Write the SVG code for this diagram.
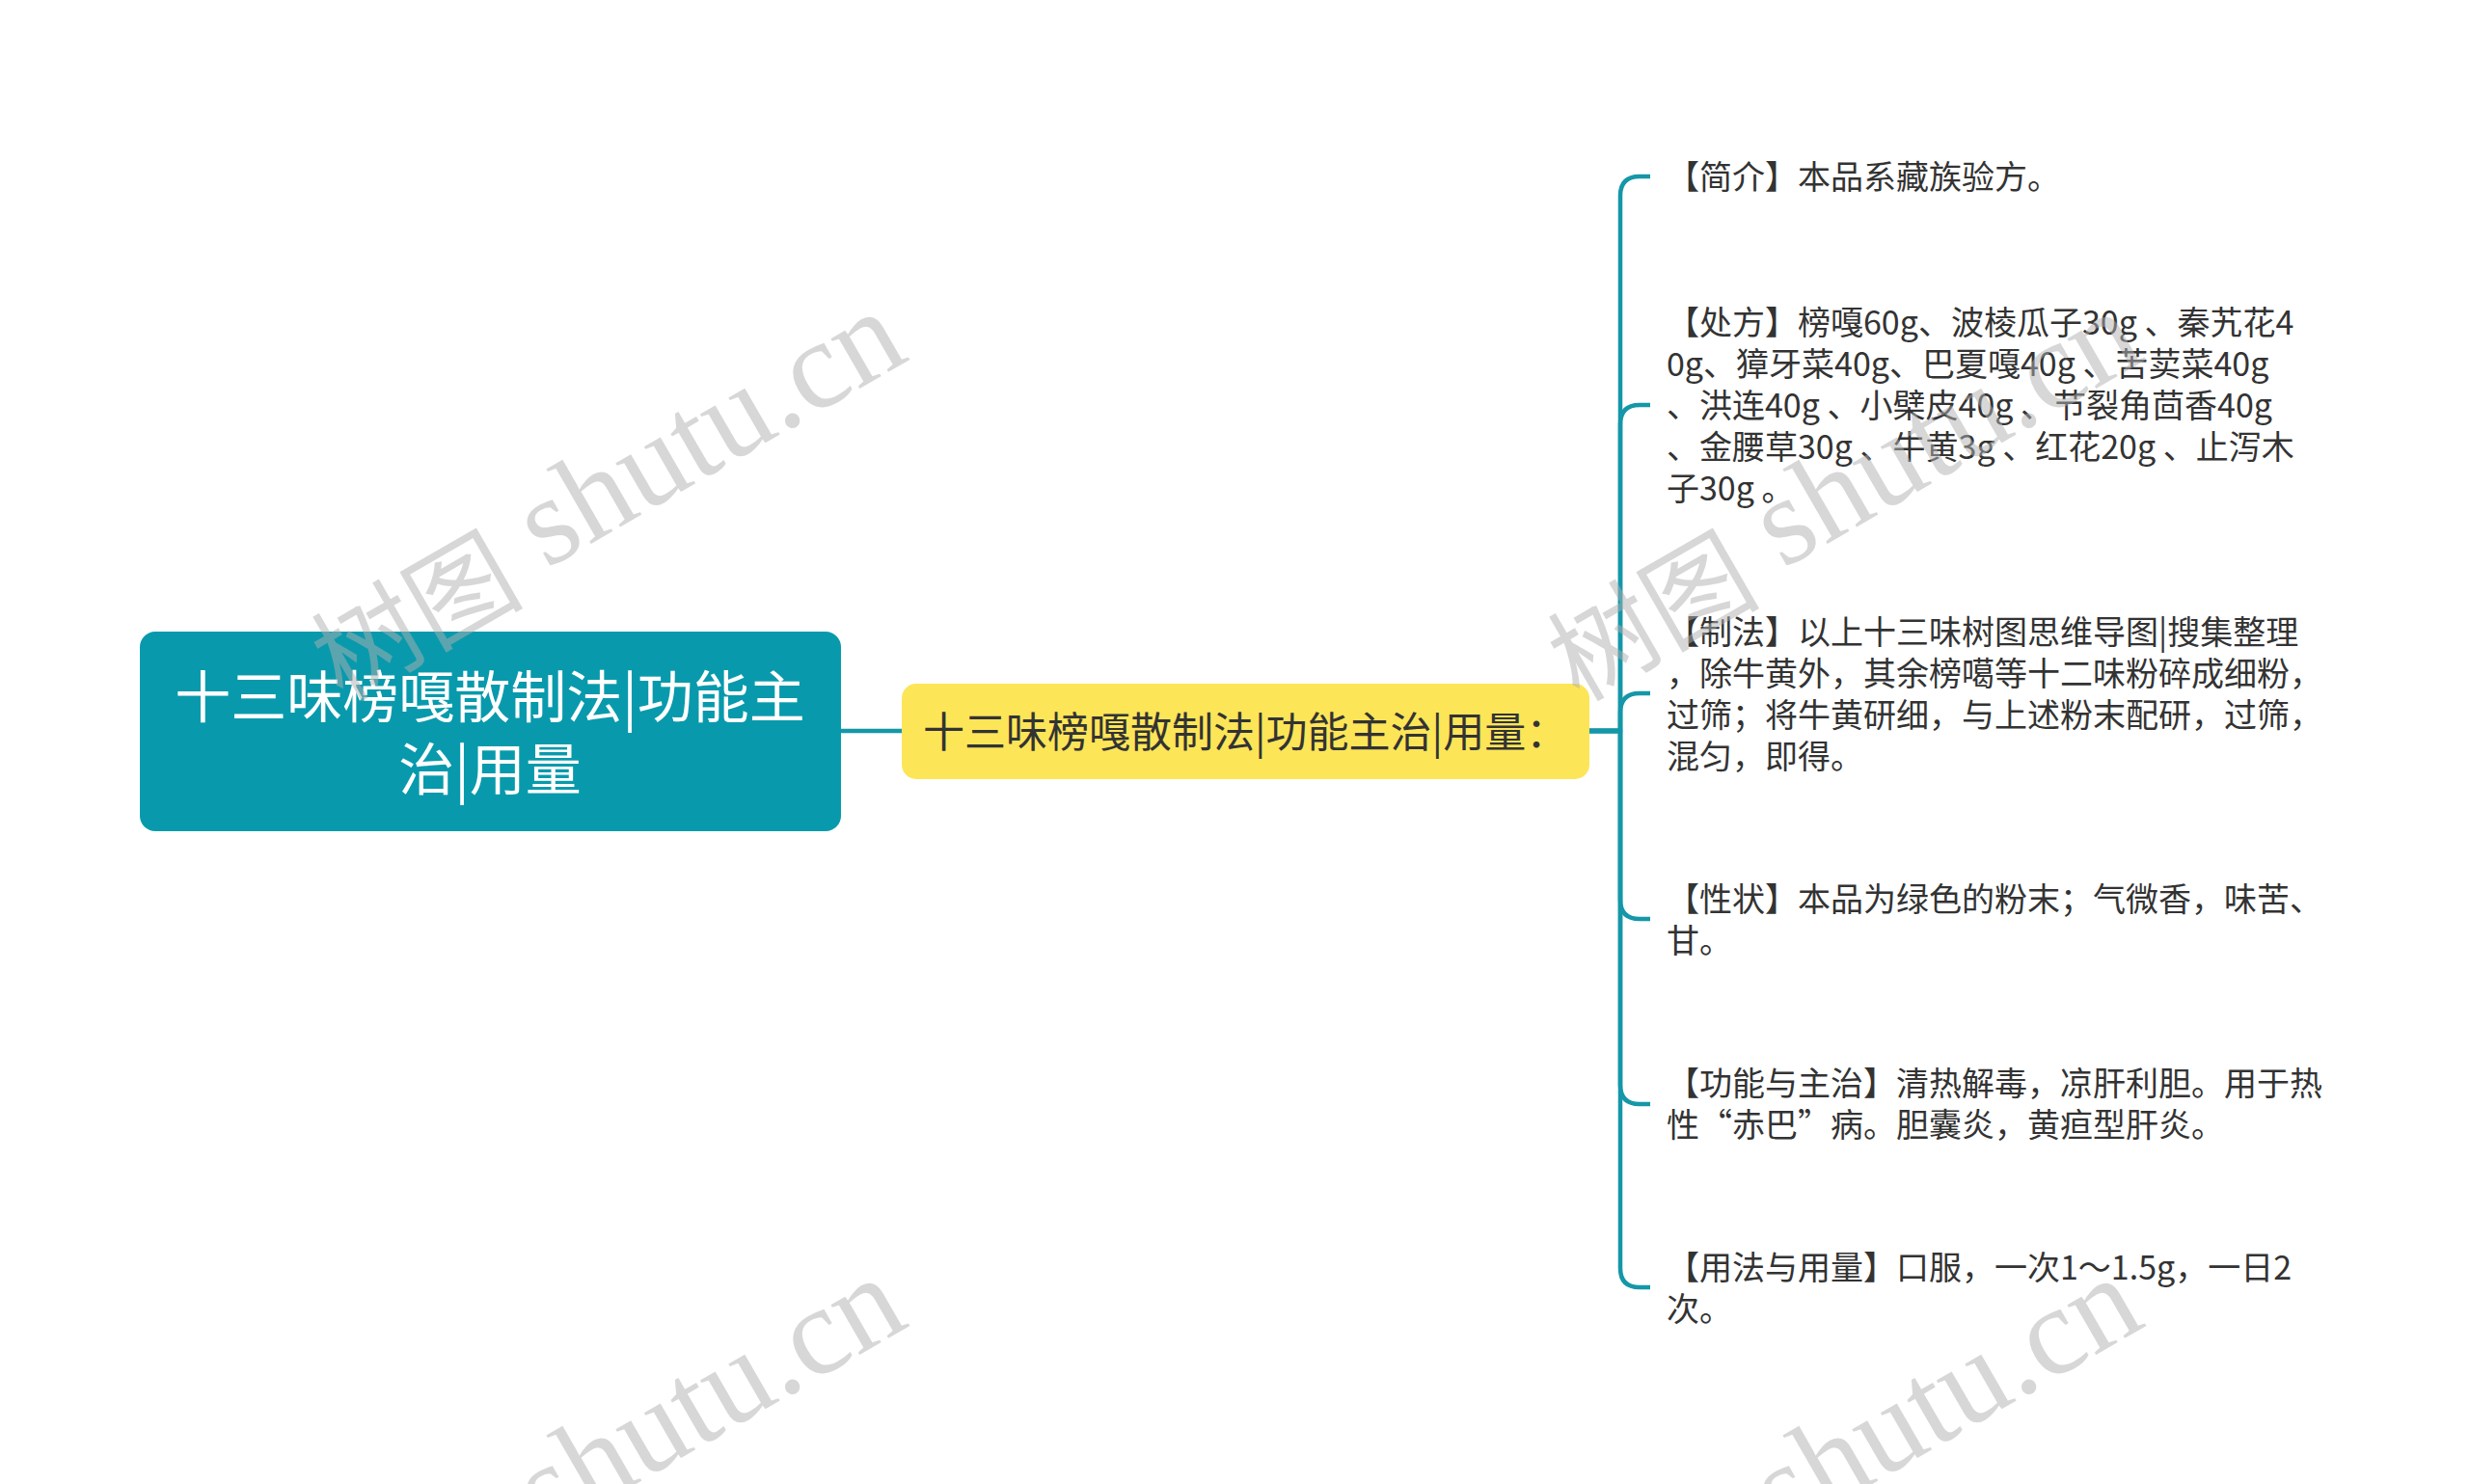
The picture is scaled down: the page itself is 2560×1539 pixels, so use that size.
<svg xmlns="http://www.w3.org/2000/svg" width="2560" height="1539" viewBox="0 0 2560 1539">
<style>
.wm { font-family: 'Liberation Serif', 'Noto Sans CJK SC', serif; font-size: 130px; fill: #b0b0b0; fill-opacity: 0.5; }
.wm .cjk { font-size: 110px; }
.root-t { font-family: 'Noto Sans CJK SC', 'Noto Sans', sans-serif; font-size: 58px; fill: #ffffff; }
.mid-t { font-family: 'Noto Sans CJK SC', 'Noto Sans', sans-serif; font-size: 43px; fill: #333333; }
.leaf-t { font-family: 'Noto Sans CJK SC', 'Noto Sans', sans-serif; font-size: 34px; fill: #333333; }
.conn { fill: none; stroke: #1597a8; stroke-width: 4.5; stroke-linecap: butt; stroke-linejoin: round; }
</style>
<rect width="2560" height="1539" fill="#ffffff"/>
<g id="connectors">
<path class="conn" d="M872,758 H936"/>
<path class="conn" d="M1648,758 H1680 V203 Q1680,183 1700,183 H1711"/>
<path class="conn" d="M1648,758 H1680 V440 Q1680,420 1700,420 H1711"/>
<path class="conn" d="M1648,758 H1680 V739 Q1680,719 1700,719 H1711"/>
<path class="conn" d="M1648,758 H1680 V933 Q1680,953 1700,953 H1711"/>
<path class="conn" d="M1648,758 H1680 V1125 Q1680,1145 1700,1145 H1711"/>
<path class="conn" d="M1648,758 H1680 V1315 Q1680,1335 1700,1335 H1711"/>
</g>
<g id="root">
<rect x="145" y="655" width="727" height="207" rx="16" fill="#089aac"/>
<text class="root-t" text-anchor="middle" x="508" y="744">十三味榜嘎散制法|功能主</text>
<text class="root-t" text-anchor="middle" x="508" y="819">治|用量</text>
</g>
<g id="mid">
<rect x="935" y="709" width="713" height="99" rx="15" fill="#fde558"/>
<text class="mid-t" x="957" y="775">十三味榜嘎散制法|功能主治|用量：</text>
</g>
<g id="leaf1">
<text class="leaf-t" x="1728" y="196">【简介】本品系藏族验方。</text>
</g>
<g id="leaf2">
<text class="leaf-t" x="1728" y="347">【处方】榜嘎60g、波棱瓜子30g 、秦艽花4</text>
<text class="leaf-t" x="1728" y="390">0g、獐牙菜40g、巴夏嘎40g 、苦荬菜40g</text>
<text class="leaf-t" x="1728" y="433">、洪连40g 、小檗皮40g 、节裂角茴香40g</text>
<text class="leaf-t" x="1728" y="476">、金腰草30g 、牛黄3g 、红花20g 、止泻木</text>
<text class="leaf-t" x="1728" y="519">子30g 。</text>
</g>
<g id="leaf3">
<text class="leaf-t" x="1728" y="668">【制法】以上十三味树图思维导图|搜集整理</text>
<text class="leaf-t" x="1728" y="711">，除牛黄外，其余榜噶等十二味粉碎成细粉，</text>
<text class="leaf-t" x="1728" y="754">过筛；将牛黄研细，与上述粉末配研，过筛，</text>
<text class="leaf-t" x="1728" y="797">混匀，即得。</text>
</g>
<g id="leaf4">
<text class="leaf-t" x="1728" y="945">【性状】本品为绿色的粉末；气微香，味苦、</text>
<text class="leaf-t" x="1728" y="988">甘。</text>
</g>
<g id="leaf5">
<text class="leaf-t" x="1728" y="1136">【功能与主治】清热解毒，凉肝利胆。用于热</text>
<text class="leaf-t" x="1728" y="1179">性“赤巴”病。胆囊炎，黄疸型肝炎。</text>
</g>
<g id="leaf6">
<text class="leaf-t" x="1728" y="1327">【用法与用量】口服，一次1～1.5g，一日2</text>
<text class="leaf-t" x="1728" y="1370">次。</text>
</g>
<g id="watermark">
<text class="wm" text-anchor="end" x="945" y="372" transform="rotate(-30 945 372)"><tspan class="cjk" dy="14">树图</tspan><tspan dy="-14"> shutu.cn</tspan></text>
<text class="wm" text-anchor="end" x="2227" y="372" transform="rotate(-30 2227 372)"><tspan class="cjk" dy="14">树图</tspan><tspan dy="-14"> shutu.cn</tspan></text>
<text class="wm" text-anchor="end" x="945" y="1374" transform="rotate(-30 945 1374)"><tspan class="cjk" dy="14">树图</tspan><tspan dy="-14"> shutu.cn</tspan></text>
<text class="wm" text-anchor="end" x="2227" y="1374" transform="rotate(-30 2227 1374)"><tspan class="cjk" dy="14">树图</tspan><tspan dy="-14"> shutu.cn</tspan></text>
</g>
</svg>
